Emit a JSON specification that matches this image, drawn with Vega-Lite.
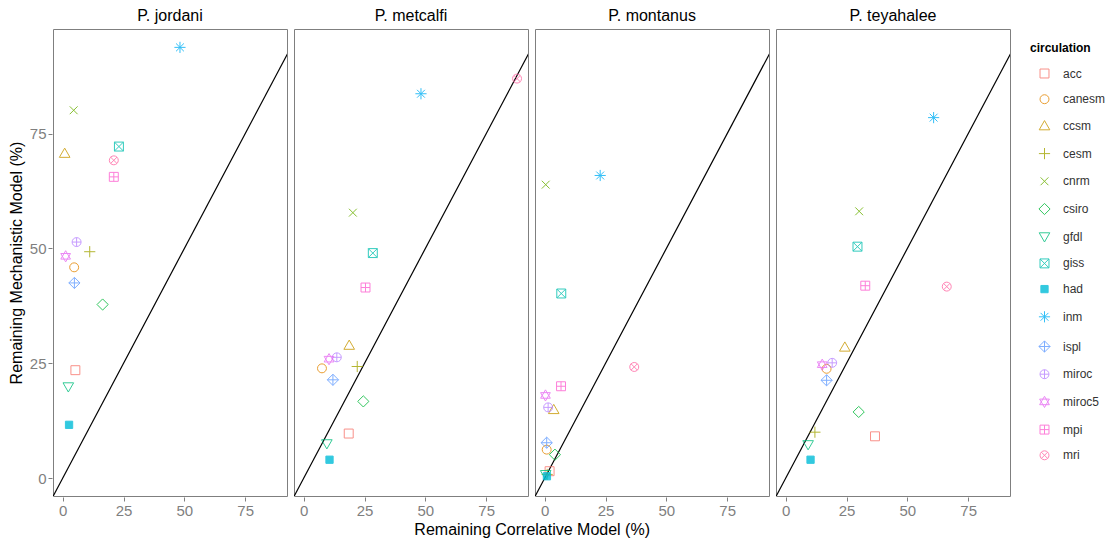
{
  "$schema": "https://vega.github.io/schema/vega-lite/v6.json",
  "padding": {"left": 8, "top": 8, "right": 5, "bottom": 5},
  "background": "white",
  "data": {"values": [
    {"species": "P. jordani", "circulation": "acc", "x": 5.2, "y": 23.5},
    {"species": "P. jordani", "circulation": "canesm", "x": 4.7, "y": 45.9},
    {"species": "P. jordani", "circulation": "ccsm", "x": 0.8, "y": 70.7},
    {"species": "P. jordani", "circulation": "cesm", "x": 11.1, "y": 49.3},
    {"species": "P. jordani", "circulation": "cnrm", "x": 4.5, "y": 80.1},
    {"species": "P. jordani", "circulation": "csiro", "x": 16.4, "y": 37.8},
    {"species": "P. jordani", "circulation": "gfdl", "x": 2.3, "y": 19.9},
    {"species": "P. jordani", "circulation": "giss", "x": 23.1, "y": 72.2},
    {"species": "P. jordani", "circulation": "had", "x": 2.6, "y": 11.6},
    {"species": "P. jordani", "circulation": "inm", "x": 48.2, "y": 93.8},
    {"species": "P. jordani", "circulation": "ispl", "x": 4.8, "y": 42.5},
    {"species": "P. jordani", "circulation": "miroc", "x": 5.7, "y": 51.4},
    {"species": "P. jordani", "circulation": "miroc5", "x": 1.2, "y": 48.3},
    {"species": "P. jordani", "circulation": "mpi", "x": 21.0, "y": 65.6},
    {"species": "P. jordani", "circulation": "mri", "x": 21.0, "y": 69.2},
    {"species": "P. metcalfi", "circulation": "acc", "x": 18.5, "y": 9.7},
    {"species": "P. metcalfi", "circulation": "canesm", "x": 7.5, "y": 23.9},
    {"species": "P. metcalfi", "circulation": "ccsm", "x": 18.7, "y": 28.9},
    {"species": "P. metcalfi", "circulation": "cesm", "x": 22.0, "y": 24.3},
    {"species": "P. metcalfi", "circulation": "cnrm", "x": 20.2, "y": 57.8},
    {"species": "P. metcalfi", "circulation": "csiro", "x": 24.5, "y": 16.7},
    {"species": "P. metcalfi", "circulation": "gfdl", "x": 9.5, "y": 7.5},
    {"species": "P. metcalfi", "circulation": "giss", "x": 28.4, "y": 49.0},
    {"species": "P. metcalfi", "circulation": "had", "x": 10.6, "y": 4.0},
    {"species": "P. metcalfi", "circulation": "inm", "x": 48.2, "y": 83.7},
    {"species": "P. metcalfi", "circulation": "ispl", "x": 12.0, "y": 21.4},
    {"species": "P. metcalfi", "circulation": "miroc", "x": 13.6, "y": 26.3},
    {"species": "P. metcalfi", "circulation": "miroc5", "x": 10.4, "y": 25.9},
    {"species": "P. metcalfi", "circulation": "mpi", "x": 25.4, "y": 41.5},
    {"species": "P. metcalfi", "circulation": "mri", "x": 87.7, "y": 87.0},
    {"species": "P. montanus", "circulation": "acc", "x": 2.0, "y": 1.5},
    {"species": "P. montanus", "circulation": "canesm", "x": 0.8, "y": 6.2},
    {"species": "P. montanus", "circulation": "ccsm", "x": 3.7, "y": 14.9},
    {"species": "P. montanus", "circulation": "cesm", "x": 1.0, "y": 0.8},
    {"species": "P. montanus", "circulation": "cnrm", "x": 0.4, "y": 63.9},
    {"species": "P. montanus", "circulation": "csiro", "x": 4.2, "y": 5.1},
    {"species": "P. montanus", "circulation": "gfdl", "x": 0.4, "y": 0.8},
    {"species": "P. montanus", "circulation": "giss", "x": 6.8, "y": 40.2},
    {"species": "P. montanus", "circulation": "had", "x": 0.9, "y": 0.4},
    {"species": "P. montanus", "circulation": "inm", "x": 22.8, "y": 65.9},
    {"species": "P. montanus", "circulation": "ispl", "x": 0.8, "y": 7.7},
    {"species": "P. montanus", "circulation": "miroc", "x": 1.4, "y": 15.4},
    {"species": "P. montanus", "circulation": "miroc5", "x": 0.3, "y": 18.0},
    {"species": "P. montanus", "circulation": "mpi", "x": 6.7, "y": 20.0},
    {"species": "P. montanus", "circulation": "mri", "x": 36.8, "y": 24.2},
    {"species": "P. teyahalee", "circulation": "acc", "x": 36.7, "y": 9.1},
    {"species": "P. teyahalee", "circulation": "canesm", "x": 16.8, "y": 23.8},
    {"species": "P. teyahalee", "circulation": "ccsm", "x": 24.3, "y": 28.5},
    {"species": "P. teyahalee", "circulation": "cesm", "x": 12.0, "y": 10.0},
    {"species": "P. teyahalee", "circulation": "cnrm", "x": 30.2, "y": 58.1},
    {"species": "P. teyahalee", "circulation": "csiro", "x": 30.0, "y": 14.4},
    {"species": "P. teyahalee", "circulation": "gfdl", "x": 9.2, "y": 7.3},
    {"species": "P. teyahalee", "circulation": "giss", "x": 29.5, "y": 50.4},
    {"species": "P. teyahalee", "circulation": "had", "x": 10.2, "y": 4.0},
    {"species": "P. teyahalee", "circulation": "inm", "x": 60.8, "y": 78.5},
    {"species": "P. teyahalee", "circulation": "ispl", "x": 16.8, "y": 21.3},
    {"species": "P. teyahalee", "circulation": "miroc", "x": 19.1, "y": 25.1},
    {"species": "P. teyahalee", "circulation": "miroc5", "x": 15.0, "y": 24.7},
    {"species": "P. teyahalee", "circulation": "mpi", "x": 32.7, "y": 41.9},
    {"species": "P. teyahalee", "circulation": "mri", "x": 66.2, "y": 41.7}
  ]},
  "facet": {
    "column": {
      "field": "species", "type": "nominal",
      "header": {"title": null, "labelFontSize": 16, "labelColor": "black", "labelPadding": 4, "labelFont": "Liberation Sans"}
    }
  },
  "spacing": 5,
  "spec": {
    "width": 234,
    "height": 467,
    "layer": [
      {
        "transform": [{"aggregate": [{"op": "count", "as": "n"}], "groupby": ["species"]}],
        "mark": {"type": "rule", "color": "black", "strokeWidth": 1.2, "clip": true},
        "encoding": {
          "x": {"datum": -10, "type": "quantitative"},
          "y": {"datum": -10, "type": "quantitative"},
          "x2": {"datum": 110},
          "y2": {"datum": 110}
        }
      },
      {
        "mark": {"type": "point", "filled": false, "opacity": 0.8, "size": 125, "strokeWidth": 1},
        "encoding": {
          "x": {
            "field": "x", "type": "quantitative",
            "scale": {"domain": [-4, 92.2], "nice": false, "zero": false},
            "axis": {
              "title": null,
              "values": [0, 12.5, 25, 37.5, 50, 62.5, 75, 87.5],
              "labelExpr": "datum.value % 25 === 0 ? format(datum.value, 'd') : ''",
              "tickOpacity": {"condition": {"test": "datum.value % 25 === 0", "value": 1}, "value": 0},
              "gridColor": {"condition": {"test": "datum.value % 25 === 0", "value": "#ebebeb"}, "value": "#f7f7f7"}
            }
          },
          "y": {
            "field": "y", "type": "quantitative",
            "scale": {"domain": [-3.9, 97.8], "nice": false, "zero": false},
            "axis": {
              "title": "Remaining Mechanistic Model (%)",
              "values": [0, 12.5, 25, 37.5, 50, 62.5, 75, 87.5],
              "labelExpr": "datum.value % 25 === 0 ? format(datum.value, 'd') : ''",
              "tickOpacity": {"condition": {"test": "datum.value % 25 === 0", "value": 1}, "value": 0},
              "gridColor": {"condition": {"test": "datum.value % 25 === 0", "value": "#ebebeb"}, "value": "#f7f7f7"},
              "titlePadding": 5
            }
          },
          "shape": {
            "field": "circulation", "type": "nominal", "title": "circulation",
            "scale": {
              "domain": ["acc", "canesm", "ccsm", "cesm", "cnrm", "csiro", "gfdl", "giss", "had", "inm", "ispl", "miroc", "miroc5", "mpi", "mri"],
              "range": [
                "M-0.8,-0.8H0.8V0.8H-0.8Z",
                "M0.8,0A0.8,0.8,0,1,1,-0.8,0A0.8,0.8,0,1,1,0.8,0Z",
                "M0,-0.95L0.95,0.7L-0.95,0.7Z",
                "M-1,0H1M0,-1V1",
                "M-0.7,-0.7L0.7,0.7M-0.7,0.7L0.7,-0.7",
                "M0,-1L1,0L0,1L-1,0Z",
                "M0,0.95L0.95,-0.7L-0.95,-0.7Z",
                "M-0.8,-0.8H0.8V0.8H-0.8ZM-0.8,-0.8L0.8,0.8M-0.8,0.8L0.8,-0.8",
                "M-0.65,-0.65H0.65V0.65H-0.65Z",
                "M-1,0H1M0,-1V1M-0.7,-0.7L0.7,0.7M-0.7,0.7L0.7,-0.7",
                "M0,-1L1,0L0,1L-1,0ZM-1,0H1M0,-1V1",
                "M0.8,0A0.8,0.8,0,1,1,-0.8,0A0.8,0.8,0,1,1,0.8,0ZM-0.8,0H0.8M0,-0.8V0.8",
                "M0,-1L0.87,0.5L-0.87,0.5ZM0,1L0.87,-0.5L-0.87,-0.5Z",
                "M-0.8,-0.8H0.8V0.8H-0.8ZM-0.8,0H0.8M0,-0.8V0.8",
                "M0.8,0A0.8,0.8,0,1,1,-0.8,0A0.8,0.8,0,1,1,0.8,0ZM-0.57,-0.57L0.57,0.57M-0.57,0.57L0.57,-0.57"
              ]
            }
          },
          "stroke": {
            "field": "circulation", "type": "nominal", "title": "circulation",
            "scale": {
              "domain": ["acc", "canesm", "ccsm", "cesm", "cnrm", "csiro", "gfdl", "giss", "had", "inm", "ispl", "miroc", "miroc5", "mpi", "mri"],
              "range": ["#F8766D", "#E58700", "#C99800", "#A3A500", "#6BB100", "#00BA38", "#00BF7D", "#00C0AF", "#00BCD8", "#00B0F6", "#619CFF", "#B983FF", "#E76BF3", "#FD61D1", "#FF67A4"]
            }
          },
          "fill": {
            "field": "circulation", "type": "nominal", "title": "circulation",
            "scale": {
              "domain": ["acc", "canesm", "ccsm", "cesm", "cnrm", "csiro", "gfdl", "giss", "had", "inm", "ispl", "miroc", "miroc5", "mpi", "mri"],
              "range": ["transparent", "transparent", "transparent", "transparent", "transparent", "transparent", "transparent", "transparent", "#00BCD8", "transparent", "transparent", "transparent", "transparent", "transparent", "transparent"]
            }
          }
        }
      }
    ]
  },
  "title": {
    "text": "Remaining Correlative Model (%)",
    "orient": "bottom",
    "anchor": "middle",
    "fontSize": 16,
    "fontWeight": "normal",
    "color": "black",
    "offset": 4,
    "dx": -32
  },
  "config": {
    "font": "Liberation Sans",
    "view": {"stroke": "#7f7f7f", "strokeWidth": 1},
    "axis": {
      "domain": false,
      "labelColor": "#7f7f7f",
      "labelFontSize": 15,
      "labelFont": "Liberation Sans",
      "tickColor": "#7f7f7f",
      "tickSize": 4,
      "labelPadding": 2,
      "titleFontSize": 16,
      "titleFontWeight": "normal",
      "titleColor": "black",
      "titleFont": "Liberation Sans"
    },
    "legend": {
      "titleFontSize": 12,
      "titleFontWeight": "bold",
      "titleColor": "black",
      "labelFontSize": 12,
      "labelColor": "#333333",
      "symbolSize": 125,
      "symbolStrokeWidth": 1,
      "symbolOpacity": 0.8,
      "symbolOffset": 8,
      "rowPadding": 12.7,
      "labelOffset": 12,
      "offset": 5,
      "padding": 14,
      "titlePadding": 12
    }
  }
}
